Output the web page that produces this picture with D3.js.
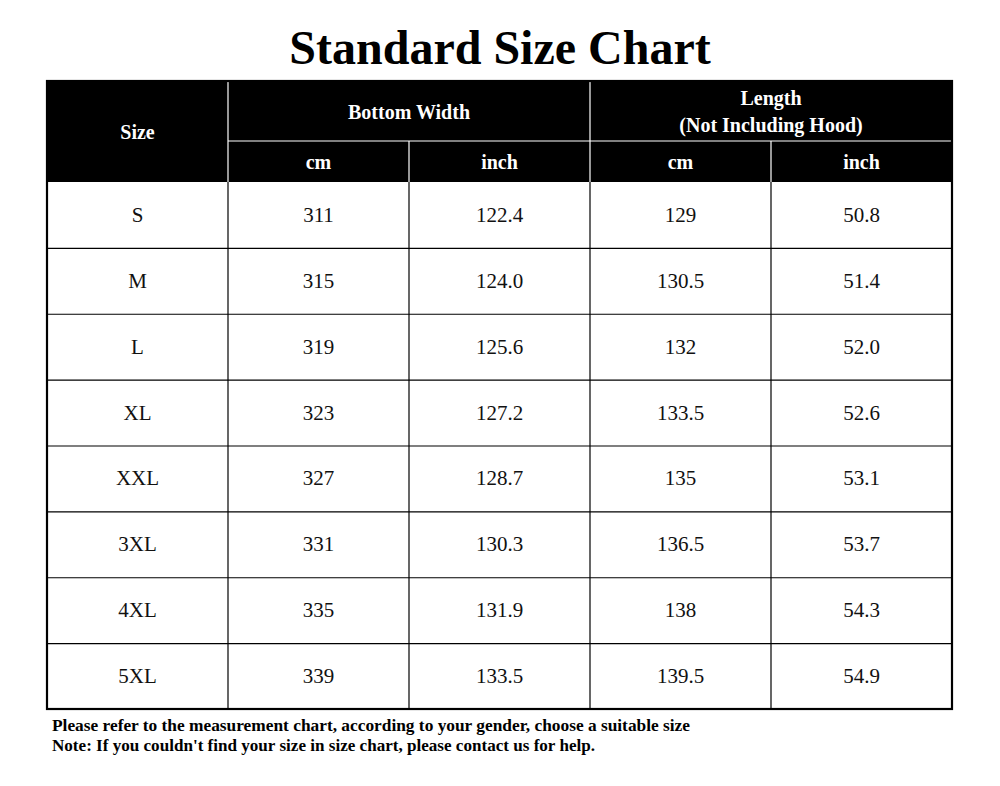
<!DOCTYPE html>
<html>
<head>
<meta charset="utf-8">
<script src="https://cdn.jsdelivr.net/npm/d3@7"></script>
<style>
  body { margin: 0; background: #fff; }
  svg { display: block; }
</style>
</head>
<body>
<div id="root"></div>
<script>
// table data
const sizes = ["S", "M", "L", "XL", "XXL", "3XL", "4XL", "5XL"];
const bottomWidthCm = ["311", "315", "319", "323", "327", "331", "335", "339"];
const bottomWidthInch = ["122.4", "124.0", "125.6", "127.2", "128.7", "130.3", "131.9", "133.5"];
const lengthCm = ["129", "130.5", "132", "133.5", "135", "136.5", "138", "139.5"];
const lengthInch = ["50.8", "51.4", "52.0", "52.6", "53.1", "53.7", "54.3", "54.9"];
const unitLabels = ["cm", "inch", "cm", "inch"];
const notes = [
  "Please refer to the measurement chart, according to your gender, choose a suitable size",
  "Note: If you couldn't find your size in size chart, please contact us for help."
];

const W = 1000, H = 786;
const serif = "'Liberation Serif', 'Times New Roman', serif";

const svg = d3.select('#root').append('svg')
  .attr('width', W)
  .attr('height', H);

// columns: 0 = size, 1..4 = values
const x = d3.scaleLinear().domain([0, 5]).range([47, 952]);
const headTop = 81, headMid = 141, headBot = 182, tableBot = 709;
const y = d3.scaleBand().domain(sizes).range([headBot, tableBot]);

// title
svg.append('text')
  .attr('x', 500).attr('y', 64)
  .attr('text-anchor', 'middle')
  .attr('font-family', serif)
  .attr('font-weight', 'bold')
  .attr('font-size', 48)
  .text('Standard Size Chart');

// header background
svg.append('rect')
  .attr('x', x(0)).attr('y', headTop)
  .attr('width', x(5) - x(0)).attr('height', headBot - headTop)
  .attr('fill', '#000');

// header white separators
const hdr = svg.append('g').attr('stroke', '#fff').attr('stroke-width', 1.2);
hdr.append('line').attr('x1', x(1)).attr('x2', x(1)).attr('y1', headTop).attr('y2', headBot);
hdr.append('line').attr('x1', x(3)).attr('x2', x(3)).attr('y1', headTop).attr('y2', headBot);
hdr.append('line').attr('x1', x(2)).attr('x2', x(2)).attr('y1', headMid).attr('y2', headBot);
hdr.append('line').attr('x1', x(4)).attr('x2', x(4)).attr('y1', headMid).attr('y2', headBot);
hdr.append('line').attr('x1', x(1)).attr('x2', x(5)).attr('y1', headMid).attr('y2', headMid);

// header texts
const ht = svg.append('g')
  .attr('fill', '#fff')
  .attr('font-family', serif)
  .attr('font-weight', 'bold')
  .attr('font-size', 20)
  .attr('text-anchor', 'middle');

ht.append('text').attr('x', (x(0) + x(1)) / 2).attr('y', 139).text('Size');
ht.append('text').attr('x', (x(1) + x(3)) / 2).attr('y', 119).text('Bottom Width');
ht.append('text').attr('x', (x(3) + x(5)) / 2).attr('y', 105).text('Length');
ht.append('text').attr('x', (x(3) + x(5)) / 2).attr('y', 132).text('(Not Including Hood)');
ht.selectAll('.unit')
  .data(unitLabels)
  .enter().append('text')
  .attr('class', 'unit')
  .attr('x', (d, i) => (x(i + 1) + x(i + 2)) / 2)
  .attr('y', 169)
  .text(d => d);

// body grid
const grid = svg.append('g').attr('stroke', '#000').attr('stroke-width', 1.2);
grid.selectAll('.hl')
  .data(sizes.slice(1))
  .enter().append('line')
  .attr('x1', x(0)).attr('x2', x(5))
  .attr('y1', d => y(d) + 0.5).attr('y2', d => y(d) + 0.5);
grid.selectAll('.vl')
  .data([1, 2, 3, 4])
  .enter().append('line')
  .attr('x1', d => x(d)).attr('x2', d => x(d))
  .attr('y1', headBot).attr('y2', tableBot);

// outer border
svg.append('rect')
  .attr('x', x(0)).attr('y', headTop)
  .attr('width', x(5) - x(0)).attr('height', tableBot - headTop)
  .attr('fill', 'none')
  .attr('stroke', '#000')
  .attr('stroke-width', 2.2);

// body values
const rows = sizes.map((s, i) => [s, bottomWidthCm[i], bottomWidthInch[i], lengthCm[i], lengthInch[i]]);
const row = svg.selectAll('.row')
  .data(rows)
  .enter().append('g')
  .attr('class', 'row')
  .attr('transform', d => 'translate(0,' + (y(d[0]) + y.bandwidth() / 2) + ')');

row.selectAll('text')
  .data(d => d)
  .enter().append('text')
  .attr('x', (d, i) => (x(i) + x(i + 1)) / 2)
  .attr('y', 7)
  .attr('text-anchor', 'middle')
  .attr('font-family', serif)
  .attr('font-size', 21)
  .attr('fill', '#111')
  .text(d => d);

// footnotes
svg.selectAll('.note')
  .data(notes)
  .enter().append('text')
  .attr('class', 'note')
  .attr('x', 52)
  .attr('y', (d, i) => 731 + i * 20)
  .attr('font-family', serif)
  .attr('font-weight', 'bold')
  .attr('font-size', 16)
  .attr('textLength', (d, i) => i === 0 ? 638 : 543)
  .attr('lengthAdjust', 'spacingAndGlyphs')
  .text(d => d);
</script>
</body>
</html>
